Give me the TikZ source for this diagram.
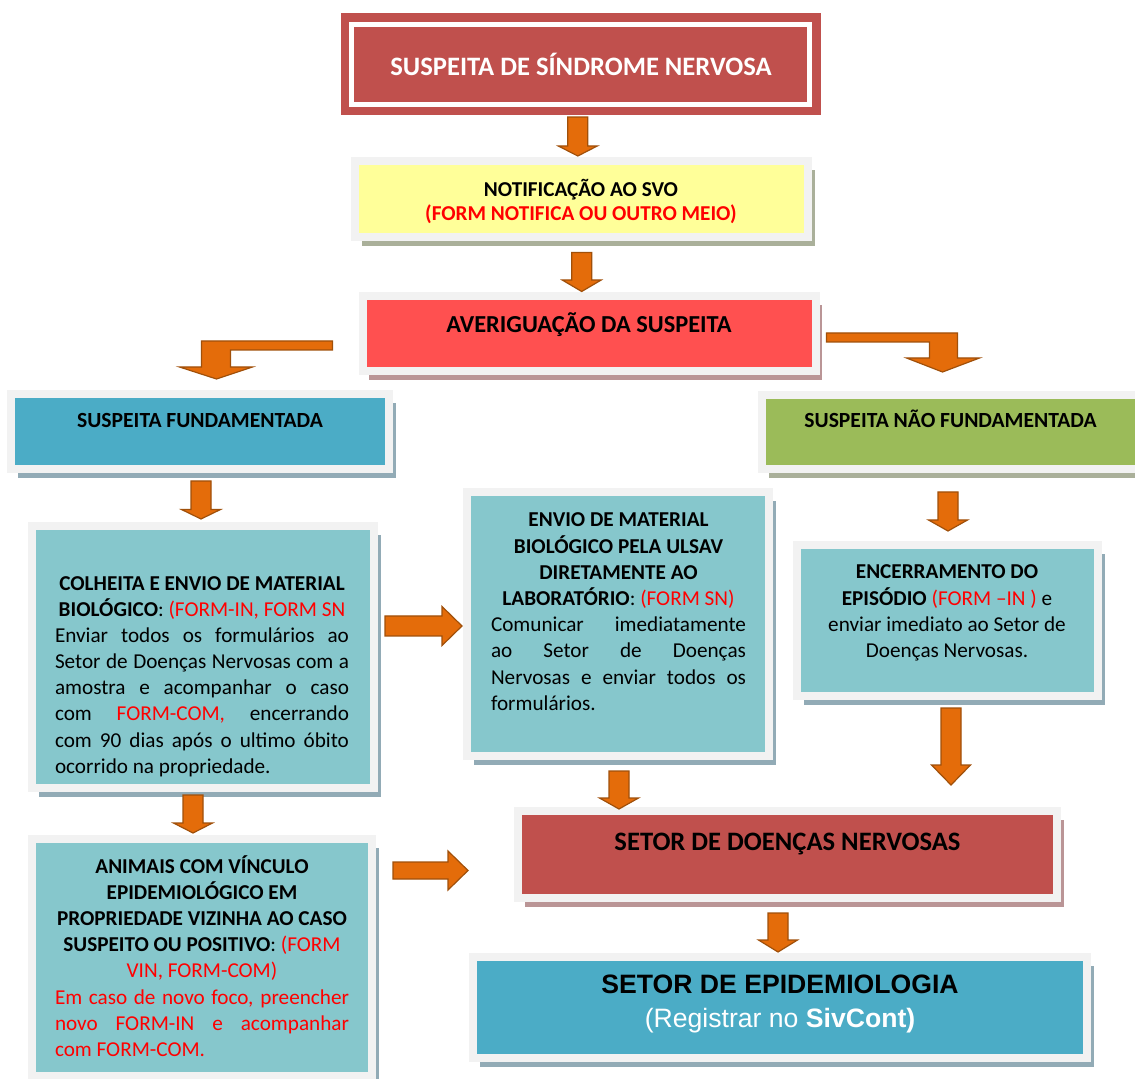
\documentclass[tikz,border=0pt]{standalone}
\usepackage{fontspec}
\setmainfont{Carlito}
\newfontfamily\arialfont{Liberation Sans}
\usepackage{xcolor}
\usetikzlibrary{shadows,calc}
\definecolor{framegray}{HTML}{F2F2F2}
\definecolor{brickred}{HTML}{C0504D}
\definecolor{notifyellow}{HTML}{FFFF99}
\definecolor{alertred}{HTML}{FF5050}
\definecolor{seablue}{HTML}{4BACC6}
\definecolor{leafgreen}{HTML}{9BBB59}
\definecolor{paleteal}{HTML}{86C7CC}
\definecolor{arrowfill}{HTML}{E46C0A}
\definecolor{arrowline}{HTML}{A0500A}
\definecolor{formred}{HTML}{FF0000}
\definecolor{shblue}{HTML}{92ABB6}
\definecolor{shred}{HTML}{BA9596}
\definecolor{shgreen}{HTML}{AAB09A}
\newcommand{\pxl}{0.5pt}
\tikzstyle{panel} = [draw=framegray, line width=4pt, inner sep=0, rectangle]
\tikzset{panelshadow/.style={drop shadow={shadow xshift=3.25pt, shadow yshift=-4.5pt, fill=#1, opacity=1}}}
\tikzstyle{headtext} = [inner sep=0, anchor=base, font=\bfseries]
\tikzstyle{blockarrow} = [fill=arrowfill, draw=arrowline, line width=0.6pt, line join=miter]
\newcommand{\formtxt}[1]{\textcolor{formred}{#1}}
\newcommand{\panetext}[2]{\begin{minipage}[t]{#1}\fontsize{10.6}{13.1}\selectfont\hbadness=10000 #2\end{minipage}}
\newcommand{\downarr}[3]{\draw[blockarrow] ($(#1)+(-10,0)$) -- ($(#1)+(10,0)$) -- ($(#2)+(10,-#3)$) -- ($(#2)+(19.5,-#3)$) -- (#2) -- ($(#2)+(-19.5,-#3)$) -- ($(#2)+(-10,-#3)$) -- cycle;}
\newcommand{\rightarr}[3]{\draw[blockarrow] ($(#1)+(0,-#3)$) -- ($(#2)+(-20,-#3)$) -- ($(#2)+(-20,-19.5)$) -- (#2) -- ($(#2)+(-20,19.5)$) -- ($(#2)+(-20,#3)$) -- ($(#1)+(0,#3)$) -- cycle;}

\begin{document}
\begin{tikzpicture}[x=0.5pt, y=-0.5pt]
\useasboundingbox (0,0) rectangle (1135,1079);

% boxes
\node[draw=white, line width=2.5pt, fill=brickred, preaction={draw=brickred, line width=11pt},
    inner sep=0, minimum width=458*\pxl, minimum height=80*\pxl] (susp) at (580.8,64.3) {};
\node[panel, fill=notifyellow, panelshadow=shgreen, minimum width=453*\pxl, minimum height=76*\pxl] (notif) at (581.5,199) {};
\node[panel, fill=alertred, panelshadow=shred, minimum width=453*\pxl, minimum height=75*\pxl] (averig) at (589,333.5) {};
\node[panel, fill=seablue, panelshadow=shblue, minimum width=378*\pxl, minimum height=75*\pxl] (fund) at (200,431.5) {};
\node[panel, fill=leafgreen, panelshadow=shgreen, minimum width=377*\pxl, minimum height=74*\pxl] (nfund) at (950.5,432) {};
\node[panel, fill=paleteal, panelshadow=shblue, minimum width=342*\pxl, minimum height=262*\pxl] (colheita) at (203,657) {};
\node[panel, fill=paleteal, panelshadow=shblue, minimum width=302*\pxl, minimum height=264*\pxl] (envio) at (618,624) {};
\node[panel, fill=paleteal, panelshadow=shblue, minimum width=301*\pxl, minimum height=151*\pxl] (encerr) at (947.5,620.5) {};
\node[panel, fill=paleteal, panelshadow=shblue, minimum width=340*\pxl, minimum height=237*\pxl] (animais) at (202,957.5) {};
\node[panel, fill=brickred, panelshadow=shred, minimum width=539*\pxl, minimum height=87*\pxl] (doencas) at (787.5,854.5) {};
\node[panel, fill=seablue, panelshadow=shblue, minimum width=614*\pxl, minimum height=101*\pxl] (epid) at (780,1007.5) {};

% texts
\node[headtext, text=white, font=\fontsize{13.3}{16}\selectfont\bfseries] (suspT) at (581,76) {SUSPEITA DE SÍNDROME NERVOSA};
\node[inner sep=0, anchor=base] (notifT) at (581,197) {\panetext{200pt}{\centering\fontsize{10.6}{12}\selectfont\bfseries
    NOTIFICAÇÃO AO SVO\\ \formtxt{(FORM NOTIFICA OU OUTRO MEIO)}}};
\node[headtext, font=\fontsize{12.2}{14}\selectfont\bfseries] (averigT) at (589,332.3) {AVERIGUAÇÃO DA SUSPEITA};
\node[headtext, font=\fontsize{10.8}{12}\selectfont\bfseries] (fundT) at (200,428) {SUSPEITA FUNDAMENTADA};
\node[headtext, font=\fontsize{10.8}{12}\selectfont\bfseries] (nfundT) at (950.5,428) {SUSPEITA NÃO FUNDAMENTADA};
\node[inner sep=0, anchor=base] (colheitaT) at (202,590) {\panetext{147pt}{{\centering
    \textbf{COLHEITA E ENVIO DE MATERIAL}\\ \textbf{BIOLÓGICO}: \formtxt{(FORM-IN, FORM SN}\par}
    Enviar todos os formulários ao\linebreak Setor de Doenças Nervosas com a\linebreak
    amostra e acompanhar o caso\linebreak com \formtxt{FORM-COM,} encerrando\linebreak
    com 90 dias após o ultimo óbito\linebreak ocorrido na propriedade.}};
\node[inner sep=0, anchor=base] (envioT) at (618.5,527) {\panetext{127.5pt}{{\centering
    \textbf{ENVIO DE MATERIAL}\\ \textbf{BIOLÓGICO PELA ULSAV}\\ \textbf{DIRETAMENTE AO}\\
    \textbf{LABORATÓRIO}: \formtxt{(FORM SN)}\par}
    Comunicar imediatamente\linebreak ao Setor de Doenças\linebreak
    Nervosas e enviar todos os\linebreak formulários.}};
\node[inner sep=0, anchor=base] (encerrT) at (947,579) {\panetext{140pt}{\centering
    \textbf{ENCERRAMENTO DO}\\ \textbf{EPISÓDIO} \formtxt{(FORM –IN )} e\\
    enviar imediato ao Setor de\\ Doenças Nervosas.}};
\node[inner sep=0, anchor=base] (animaisT) at (202,873) {\panetext{147pt}{{\centering
    \textbf{ANIMAIS COM VÍNCULO}\\ \textbf{EPIDEMIOLÓGICO EM}\\ \textbf{PROPRIEDADE VIZINHA AO CASO}\\
    \textbf{SUSPEITO OU POSITIVO}: \formtxt{(FORM}\\ \formtxt{VIN, FORM-COM)}\par}
    \color{formred}Em caso de novo foco, preencher\linebreak novo FORM-IN e acompanhar\linebreak
    com FORM-COM.}};
\node[headtext, font=\fontsize{13.3}{16}\selectfont\bfseries] (doencasT) at (787.5,850) {SETOR DE DOENÇAS NERVOSAS};
\node[headtext, font=\fontsize{13.3}{15}\selectfont\arialfont\bfseries] (epidT) at (780,993) {SETOR DE EPIDEMIOLOGIA};
\node[inner sep=0, anchor=base, text=white, font=\fontsize{13.3}{16}\selectfont\arialfont] (regT) at (780,1027) {(Registrar no \textbf{SivCont)}};

% arrows
\coordinate (a1s) at ($(susp.south)+(-3,10.3)$);
\coordinate (a1e) at ($(a1s |- notif.north)+(0,-1)$);
\coordinate (a2s) at ($(notif.south)+(0.2,11.5)$);
\coordinate (a2e) at ($(a2s |- averig.north)+(0,-0.5)$);
\coordinate (a3s) at ($(fund.south)+(1,8)$);
\coordinate (a3e) at ($(a3s |- colheita.north)+(0,-3)$);
\coordinate (a4s) at ($(colheita.south)+(-10,3)$);
\coordinate (a4e) at ($(a4s |- animais.north)+(0,-2)$);
\coordinate (a5s) at ($(envio.south)+(1,11)$);
\coordinate (a5e) at ($(a5s |- doencas.north)+(0,2)$);
\coordinate (a6s) at ($(nfund.south)+(-2.5,19)$);
\coordinate (a6e) at ($(a6s |- encerr.north)+(0,-10)$);
\coordinate (a7s) at ($(encerr.south)+(3.5,8)$);
\coordinate (a7e) at ($(a7s |- doencas.north)+(0,-22)$);
\coordinate (a8s) at ($(doencas.south)+(-9.5,11)$);
\coordinate (a8e) at ($(a8s |- epid.north)+(0,-1)$);
\downarr{a1s}{a1e}{10}
\downarr{a2s}{a2e}{11.5}
\downarr{a3s}{a3e}{9.5}
\downarr{a4s}{a4e}{10}
\downarr{a5s}{a5e}{11}
\downarr{a6s}{a6e}{11}
\downarr{a7s}{a7e}{20}
\downarr{a8s}{a8e}{12}

\coordinate (r1s) at ($(colheita.east)+(7,-31)$);
\coordinate (r1e) at ($(r1s -| envio.west)+(-1,0)$);
\coordinate (r2s) at ($(animais.east)+(17,-87)$);
\coordinate (r2e) at ($(r2s -| doencas.west)+(-46,0)$);
\rightarr{r1s}{r1e}{10}
\rightarr{r2s}{r2e}{8.5}

\coordinate (els) at ($(averig.west)+(-26,7.5)$);
\coordinate (ers) at ($(averig.east)+(7,-0.5)$);
\draw[blockarrow] (els) -- ++(-131,0) -- ++(0,26) -- ++(-22,0) -- ++(37,12) -- ++(36,-12)
    -- ++(-22,0) -- ++(0,-17) -- ++(102,0) -- cycle;
\draw[blockarrow] (ers) -- ++(131,0) -- ++(0,25) -- ++(22,0) -- ++(-37,14) -- ++(-36,-14)
    -- ++(23,0) -- ++(0,-16) -- ++(-103,0) -- cycle;
\end{tikzpicture}
\end{document}
